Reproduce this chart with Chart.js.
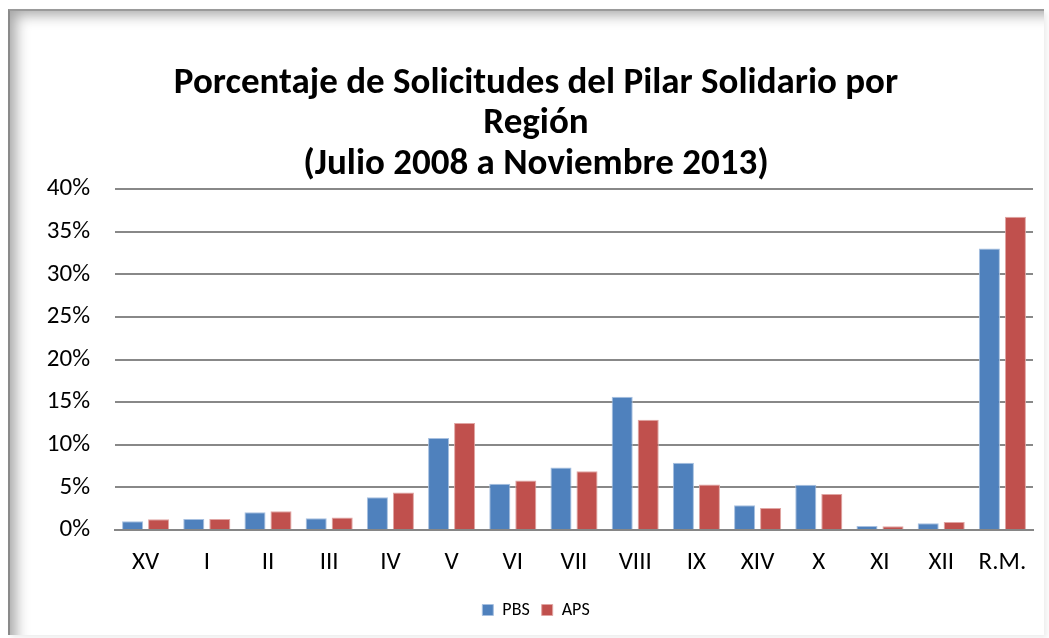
<!DOCTYPE html>
<html>
<head>
<meta charset="utf-8">
<script src="https://cdn.jsdelivr.net/npm/chart.js@4.4.0/dist/chart.umd.min.js"></script>
<style>
  html, body { margin: 0; padding: 0; background: #fff; }
  body { width: 1049px; height: 638px; position: relative; overflow: hidden; }
  #frame {
    position: absolute; left: 8px; top: 9px; width: 1034px; height: 624px;
    border-left: 2px solid #8a8a8a; border-top: 2px solid #9a9a9a;
    box-shadow: inset 12px 10px 14px -6px rgba(0,0,0,0.35), 3px 3px 5px rgba(0,0,0,0.07);
    background: #fff;
  }
  #wrap { position: absolute; left: 0; top: 0; width: 1049px; height: 638px; }
</style>
</head>
<body>
<div id="frame"></div>
<div id="wrap"><canvas id="c" width="1049" height="638"></canvas></div>
<script>
const categories = ["XV","I","II","III","IV","V","VI","VII","VIII","IX","XIV","X","XI","XII","R.M."];
const pbsValues = [1.02, 1.29, 2.07, 1.37, 3.83, 10.8, 5.42, 7.33, 15.64, 7.88, 2.89, 5.31, 0.47, 0.78, 33.03];
const apsValues = [1.25, 1.29, 2.19, 1.48, 4.41, 12.56, 5.81, 6.9, 12.95, 5.35, 2.57, 4.21, 0.43, 0.94, 36.77];
const yTicks = [0, 5, 10, 15, 20, 25, 30, 35, 40];
const titleLines = ["Porcentaje de Solicitudes del Pilar Solidario por", "Región", "(Julio 2008 a Noviembre 2013)"];

const FONT = "Carlito, Lato, 'Open Sans', sans-serif";

new Chart(document.getElementById('c'), {
  type: 'bar',
  data: {
    labels: categories,
    datasets: [
      { label: 'PBS', data: pbsValues, backgroundColor: '#4F81BD', borderColor: '#A7C0E0', borderWidth: 1,
        categoryPercentage: 0.85, barPercentage: 0.81 },
      { label: 'APS', data: apsValues, backgroundColor: '#C0504D', borderColor: '#E0A5A3', borderWidth: 1,
        categoryPercentage: 0.85, barPercentage: 0.81 }
    ]
  },
  options: {
    responsive: false,
    animation: false,
    layout: { padding: { left: 39, right: 16, top: 63, bottom: 9 } },
    plugins: {
      title: {
        display: true,
        text: titleLines,
        color: '#000',
        font: { family: FONT, size: 37, weight: 'bold', lineHeight: 1.1 },
        padding: { top: 0, bottom: 4 }
      },
      legend: {
        position: 'bottom',
        labels: {
          color: '#000',
          font: { family: FONT, size: 18 },
          boxWidth: 11, boxHeight: 11, padding: 12
        }
      },
      tooltip: { enabled: false }
    },
    scales: {
      x: {
        grid: { display: false, drawTicks: false },
        border: { display: true, color: '#868686', width: 2 },
        ticks: { color: '#000', font: { family: FONT, size: 25 }, padding: 18 },
        afterFit: (axis) => { axis.height -= 7; }
      },
      y: {
        min: 0, max: 40,
        afterBuildTicks: (axis) => { axis.ticks = yTicks.map(v => ({ value: v })); },
        grid: { color: '#888888', lineWidth: 2, drawTicks: false },
        border: { display: false },
        ticks: { color: '#000', font: { family: FONT, size: 25 }, padding: 25,
                 callback: (v) => v + '%' },
        afterFit: (axis) => { axis.width = 76; }
      }
    }
  }
});
</script>
</body>
</html>
